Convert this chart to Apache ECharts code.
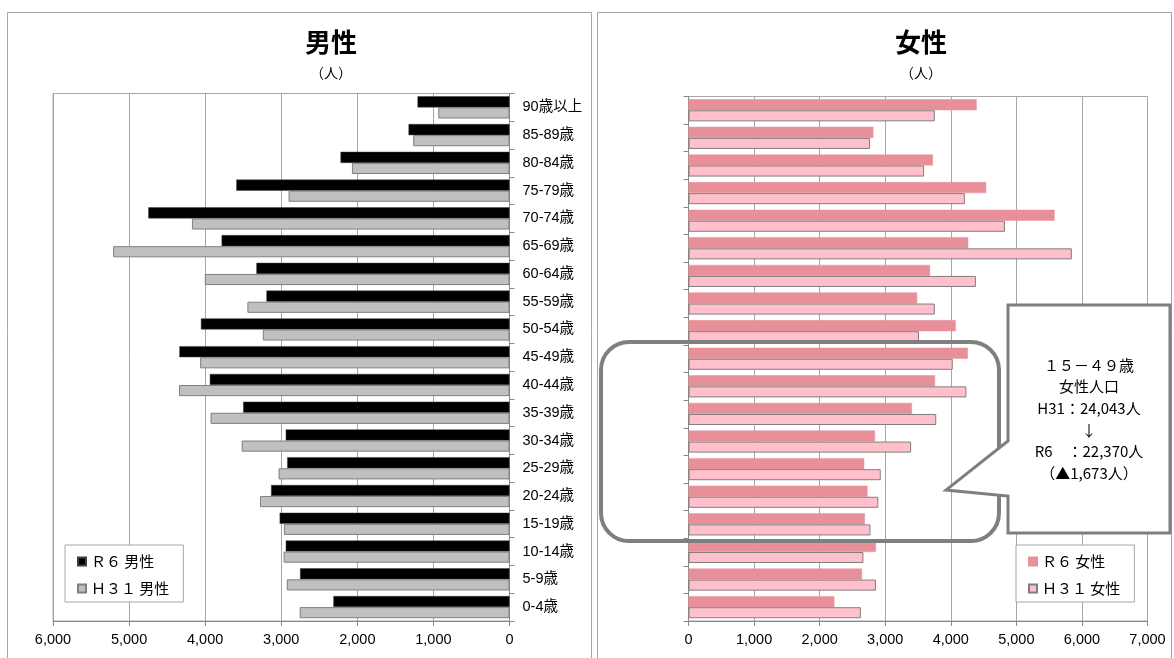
<!DOCTYPE html>
<html><head><meta charset="utf-8">
<script src="https://cdn.jsdelivr.net/npm/echarts@6/dist/echarts.min.js"></script>
<style>html,body{margin:0;padding:0;background:#fff}#c{width:1174px;height:658px}</style>
</head><body><div id="c"></div>
<script>
const ageGroups = ['90歳以上','85-89歳','80-84歳','75-79歳','70-74歳','65-69歳','60-64歳','55-59歳','50-54歳','45-49歳','40-44歳','35-39歳','30-34歳','25-29歳','20-24歳','15-19歳','10-14歳','5-9歳','0-4歳'];
const maleR6   = [1209,1327,2221,3591,4748,3784,3327,3195,4056,4339,3939,3501,2941,2922,3134,3021,2941,2753,2315];
const maleH31  = [936,1266,2071,2904,4174,5209,4005,3445,3242,4066,4344,3929,3520,3035,3280,2965,2969,2927,2758];
const femaleR6 = [4395,2820,3728,4540,5583,4266,3683,3487,4075,4260,3760,3408,2845,2680,2730,2690,2859,2646,2225];
const femaleH31= [3756,2769,3593,4215,4826,5846,4383,3756,3515,4030,4238,3778,3395,2932,2895,2775,2668,2859,2629];
const seriesNames = ['Ｒ６ 男性','Ｈ３１ 男性','Ｒ６ 女性','Ｈ３１ 女性'];
const calloutLines = ['１５－４９歳','女性人口','H31：24,043人','↓','R6　：22,370人','（▲1,673人）'];

const CJK = '"Noto Sans CJK JP", "Noto Sans", sans-serif';
const NUMF = '"Liberation Sans", "Noto Sans CJK JP", sans-serif';
const fmt = v => String(v).replace(/\B(?=(\d{3})+(?!\d))/g, ',');
const gridLine = '#a6a6a6';

const chart = echarts.init(document.getElementById('c'));
const axisCommon = {
  axisLine:{show:true,lineStyle:{color:'#898989'}},
  axisTick:{show:true,length:5,lineStyle:{color:'#898989'}},
  splitLine:{show:true,lineStyle:{color:gridLine,width:1}},
  axisLabel:{color:'#000',fontSize:14.5,fontFamily:NUMF,formatter:fmt,margin:12}
};
const legendCommon = {
  orient:'vertical',padding:[9,14,6,12],itemGap:12,itemWidth:8,itemHeight:8,icon:'rect',
  borderColor:'#a6a6a6',borderWidth:1,backgroundColor:'#fff',
  textStyle:{fontSize:15,color:'#000',fontFamily:CJK}
};
chart.setOption({
  animation:false,
  textStyle:{fontFamily:CJK},
  grid:[
    {left:53,top:93.5,width:456.5,height:527.5,show:true,borderColor:gridLine,borderWidth:1,containLabel:false},
    {left:688.5,top:96.5,width:459,height:524.5,show:true,borderColor:gridLine,borderWidth:1,containLabel:false}
  ],
  xAxis:[
    Object.assign({gridIndex:0,type:'value',min:0,max:6000,interval:1000,inverse:true},axisCommon),
    Object.assign({gridIndex:1,type:'value',min:0,max:7000,interval:1000},axisCommon)
  ],
  yAxis:[
    {gridIndex:0,type:'category',data:ageGroups,inverse:true,position:'right',
     axisLine:{show:true,lineStyle:{color:'#898989'}},
     axisTick:{show:true,length:5,lineStyle:{color:'#898989'}},
     axisLabel:{color:'#000',fontSize:14.5,fontFamily:NUMF,margin:13,align:'left'}},
    {gridIndex:1,type:'category',data:ageGroups,inverse:true,position:'left',
     axisLine:{show:true,lineStyle:{color:'#898989'}},
     axisTick:{show:true,length:5,lineStyle:{color:'#898989'}},
     axisLabel:{show:false}}
  ],
  legend:[
    Object.assign({data:[seriesNames[0],seriesNames[1]],left:65,top:545},legendCommon),
    Object.assign({data:[seriesNames[2],seriesNames[3]],left:1016,top:545},legendCommon)
  ],
  series:[
    {name:seriesNames[0],type:'bar',xAxisIndex:0,yAxisIndex:0,data:maleR6,barGap:'0%',barCategoryGap:'20%',
     itemStyle:{color:'#000000',borderColor:'#404040',borderWidth:0.5}},
    {name:seriesNames[1],type:'bar',xAxisIndex:0,yAxisIndex:0,data:maleH31,barGap:'0%',barCategoryGap:'20%',
     itemStyle:{color:'#c0c0c0',borderColor:'#7f7f7f',borderWidth:1}},
    {name:seriesNames[2],type:'bar',xAxisIndex:1,yAxisIndex:1,data:femaleR6,barGap:'0%',barCategoryGap:'20%',
     itemStyle:{color:'#e8909a',borderColor:'#e8909a',borderWidth:0.5}},
    {name:seriesNames[3],type:'bar',xAxisIndex:1,yAxisIndex:1,data:femaleH31,barGap:'0%',barCategoryGap:'20%',
     itemStyle:{color:'#ffc0cb',borderColor:'#7f7f7f',borderWidth:1}}
  ],
  graphic:[
    {type:'rect',z:-10,shape:{x:7.5,y:12.5,width:584,height:680},style:{fill:null,stroke:'#a6a6a6',lineWidth:1}},
    {type:'rect',z:-10,shape:{x:597.5,y:12.5,width:574,height:680},style:{fill:null,stroke:'#a6a6a6',lineWidth:1}},
    {type:'text',z:10,x:331,y:42,style:{text:'男性',font:'bold 26px '+CJK,fill:'#000',textAlign:'center',textVerticalAlign:'middle'}},
    {type:'text',z:10,x:331,y:73,style:{text:'（人）',font:'14px '+CJK,fill:'#000',textAlign:'center',textVerticalAlign:'middle'}},
    {type:'text',z:10,x:921,y:42,style:{text:'女性',font:'bold 26px '+CJK,fill:'#000',textAlign:'center',textVerticalAlign:'middle'}},
    {type:'text',z:10,x:921,y:73,style:{text:'（人）',font:'14px '+CJK,fill:'#000',textAlign:'center',textVerticalAlign:'middle'}},
    {type:'rect',z:100,shape:{x:601,y:342,width:398,height:199,r:28},style:{fill:null,stroke:'#7f7f7f',lineWidth:4}},
    {type:'polygon',z:101,shape:{points:[[1008,305],[1170,305],[1170,533],[1008,533],[1008,496],[946,490],[1008,441]]},
     style:{fill:'#fff',stroke:'#7f7f7f',lineWidth:3}},
    {type:'text',z:102,x:1089,y:354,style:{text:calloutLines.join('\n'),font:'15px '+CJK,lineHeight:21.7,fill:'#000',textAlign:'center',textVerticalAlign:'top'}}
  ]
});
</script></body></html>
